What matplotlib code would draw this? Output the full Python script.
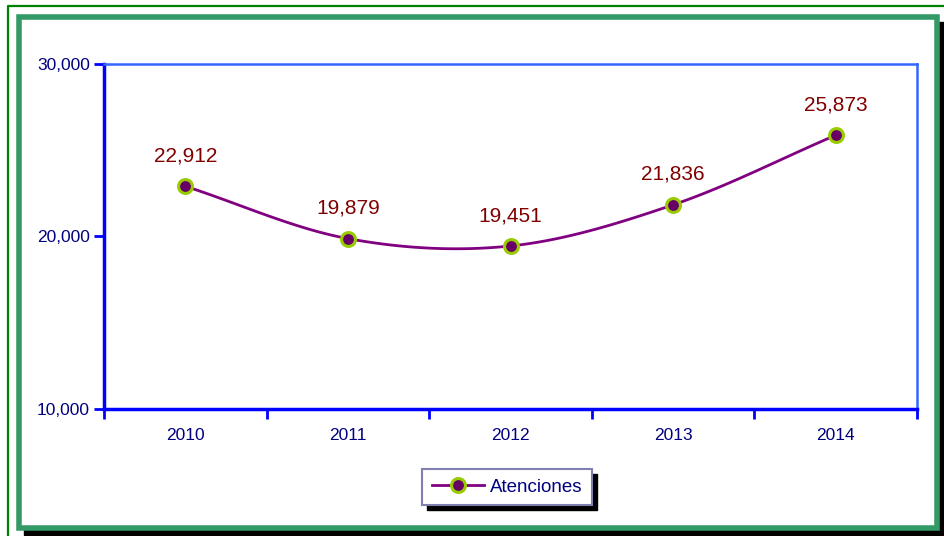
import matplotlib.pyplot as plt
import matplotlib.patches as mpatches
from matplotlib.lines import Line2D
import numpy as np

plt.rcParams['font.family'] = ['Liberation Sans', 'DejaVu Sans']

years = ["2010", "2011", "2012", "2013", "2014"]
atenciones = [22912, 19879, 19451, 21836, 25873]
y_ticks = [10000, 20000, 30000]

W, H = 944, 536
fig = plt.figure(figsize=(W / 100, H / 100), dpi=100)


def px_rect(x0, y0, x1, y1):
    # pixel box (top-left origin) -> figure fraction
    return [x0 / W, 1 - y1 / H, (x1 - x0) / W, (y1 - y0) / H]


# smooth line like the spreadsheet "smoothed line" option (Catmull-Rom)
def smooth(xs, ys, n=30):
    xs, ys = np.asarray(xs, float), np.asarray(ys, float)
    px = np.concatenate([[2 * xs[0] - xs[1]], xs, [2 * xs[-1] - xs[-2]]])
    py = np.concatenate([[2 * ys[0] - ys[1]], ys, [2 * ys[-1] - ys[-2]]])
    out_x, out_y = [], []
    t = np.linspace(0, 1, n)
    for i in range(1, len(px) - 2):
        for arr, out in ((px, out_x), (py, out_y)):
            p0, p1, p2, p3 = arr[i - 1], arr[i], arr[i + 1], arr[i + 2]
            out.extend(0.5 * ((2 * p1) + (-p0 + p2) * t
                              + (2 * p0 - 5 * p1 + 4 * p2 - p3) * t ** 2
                              + (-p0 + 3 * p1 - 3 * p2 + p3) * t ** 3))
    return out_x, out_y


# frames
bg = fig.add_axes([0, 0, 1, 1])
bg.set_xlim(0, W)
bg.set_ylim(H, 0)
bg.axis("off")
bg.plot([8, 8, W], [H, 6, 6], color="#008000", lw=1.6)
bg.add_patch(mpatches.Rectangle((939, 22), 5, H - 22, color="black"))
bg.add_patch(mpatches.Rectangle((24, 530), W - 24, 5, color="black"))
bg.add_patch(mpatches.Rectangle((19, 17), 918, 511, fill=False,
                                edgecolor="#339966", lw=4))

ax = fig.add_axes(px_rect(104, 64, 917, 409))
xs = np.arange(len(years))
sx, sy = smooth(xs, atenciones)
ax.plot(sx, sy, color="#800080", lw=2, zorder=3)
ax.plot(xs, atenciones, "o", ms=10, mfc="#660066", mec="#99cc00",
        mew=2.2, zorder=4)

for x, v in zip(xs, atenciones):
    ax.annotate(f"{v:,}", (x, v), xytext=(0, 15), textcoords="offset points",
                ha="center", va="bottom", color="#800000", fontsize=15)

ax.set_xlim(-0.5, len(years) - 0.5)
ax.set_ylim(10000, 30000)
ax.set_yticks(y_ticks)
ax.set_yticklabels([f"{t:,}" for t in y_ticks])
ax.set_xticks(xs)
ax.set_xticklabels(years)
ax.set_xticks(np.arange(len(years) + 1) - 0.5, minor=True)
ax.tick_params(axis="x", which="major", length=0, pad=14, labelsize=12.5,
               labelcolor="#000080")
ax.tick_params(axis="x", which="minor", length=7, width=2, color="#0000ff",
               direction="out")
ax.tick_params(axis="y", length=7, width=2, color="#0000ff", pad=3,
               labelsize=12.5, labelcolor="#000080")

ax.spines["left"].set_color("#0000ff")
ax.spines["left"].set_linewidth(2.5)
ax.spines["bottom"].set_color("#0000ff")
ax.spines["bottom"].set_linewidth(2.5)
ax.spines["top"].set_color("#3366ff")
ax.spines["top"].set_linewidth(1.8)
ax.spines["right"].set_color("#3366ff")
ax.spines["right"].set_linewidth(1.8)

# legend with a hard black shadow
handle = Line2D([], [], color="#800080", lw=2, marker="o", ms=10,
                mfc="#660066", mec="#99cc00", mew=2.2)
bg.add_patch(mpatches.Rectangle((427, 474), 170, 36, color="black"))
bg.add_patch(mpatches.Rectangle((422, 469), 170, 36, facecolor="white",
                                edgecolor="#8080b0", lw=1.5))
fig.legend([handle], ["Atenciones"], loc="center",
           bbox_to_anchor=(507 / W, 1 - 487 / H), frameon=False,
           fontsize=13.5, labelcolor="#000080", handlelength=2.8,
           handletextpad=0.3)

fig.savefig("out.png", dpi=100)
